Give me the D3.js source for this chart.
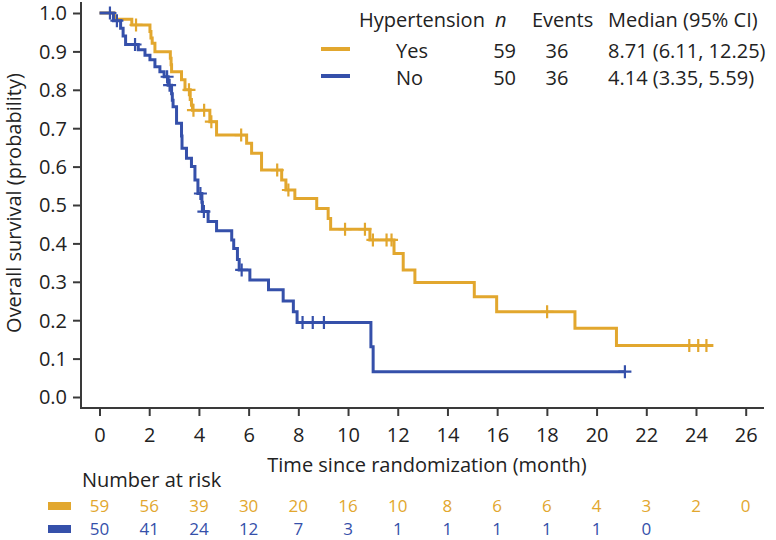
<!DOCTYPE html>
<html><head><meta charset="utf-8">
<script src="https://cdn.jsdelivr.net/npm/d3@7"></script>
<style>
body{margin:0;background:#fff}
svg text{font-family:"Open Sans",sans-serif;fill:#222}
</style>
</head><body>
<svg id="chart" width="776" height="540"></svg>
<script>
// ---------- data ----------
const groups = ["Yes", "No"];
const groupColors = ["#E2A72E", "#3550AA"];
const legendN = [59, 50];
const legendEvents = [36, 36];
const legendMedian = ["8.71 (6.11, 12.25)", "4.14 (3.35, 5.59)"];

const yesTimes = [0, 0.6, 1.3, 2.03, 2.07, 2.12, 2.23, 2.85, 2.88, 2.9, 3.3, 3.44, 3.65, 3.7, 3.74, 4.44, 4.71,
  5.92, 6.12, 6.52, 7.33, 7.5, 7.86, 8.74, 9.2, 9.3, 10.88, 11.85, 12.22, 12.69, 15.08, 15.98, 19.13, 20.8];
const yesSurv = [1.0, 0.984, 0.969, 0.952, 0.935, 0.921, 0.899, 0.882, 0.865, 0.847, 0.826, 0.800, 0.775, 0.760, 0.747, 0.717, 0.682,
  0.661, 0.635, 0.591, 0.565, 0.539, 0.517, 0.491, 0.465, 0.437, 0.409, 0.374, 0.331, 0.298, 0.261, 0.222, 0.179, 0.134];
const yesEnd = 24.7;
const yesCensor = [1.47, 3.6, 3.78, 4.21, 4.5, 5.7, 7.15, 7.6, 9.88, 10.68, 11.0, 11.55, 11.75, 18.01, 23.73, 24.09, 24.42];

const noTimes = [0, 0.56, 0.85, 0.95, 1.05, 1.56, 1.83, 2.03, 2.23, 2.43, 2.6, 2.76, 2.9, 2.93, 2.96, 3.1, 3.3, 3.32, 3.5, 3.7,
  3.84, 3.96, 4.12, 4.14, 4.37, 4.71, 5.32, 5.4, 5.55, 5.62, 6.05, 6.8, 7.39, 7.8, 7.95, 10.92, 11.01];
const noSurv = [1.0, 0.98, 0.96, 0.94, 0.918, 0.904, 0.89, 0.878, 0.86, 0.847, 0.834, 0.812, 0.79, 0.773, 0.756, 0.713, 0.68, 0.648, 0.622, 0.6,
  0.565, 0.53, 0.507, 0.483, 0.457, 0.433, 0.409, 0.387, 0.358, 0.331, 0.305, 0.279, 0.25, 0.222, 0.194, 0.131, 0.066];
const noEnd = 21.14;
const noCensor = [0.42, 0.7, 1.43, 2.72, 2.82, 4.06, 4.2, 5.72, 8.17, 8.58, 9.03, 21.14];

const xTickValues = [0, 2, 4, 6, 8, 10, 12, 14, 16, 18, 20, 22, 24, 26];
const yTickValues = [0, 0.1, 0.2, 0.3, 0.4, 0.5, 0.6, 0.7, 0.8, 0.9, 1.0];
const riskYes = [59, 56, 39, 30, 20, 16, 10, 8, 6, 6, 4, 3, 2, 0];
const riskNo = [50, 41, 24, 12, 7, 3, 1, 1, 1, 1, 1, 0];

// ---------- layout ----------
const svg = d3.select("#chart");
const x = d3.scaleLinear().domain([0, 26]).range([99.5, 745.7]);
const y = d3.scaleLinear().domain([0, 1]).range([397, 13]);
const axisColor = "#3a3a3a";
const fs = 20;
const riskFs = 17;

// axes
const yAxisX = 81, xAxisY = 408;
svg.append("line").attr("x1", yAxisX).attr("x2", yAxisX).attr("y1", 2).attr("y2", xAxisY + 1)
  .attr("stroke", axisColor).attr("stroke-width", 2);
svg.append("line").attr("x1", yAxisX - 1).attr("x2", 764).attr("y1", xAxisY).attr("y2", xAxisY)
  .attr("stroke", axisColor).attr("stroke-width", 2);

const gy = svg.append("g").attr("transform", `translate(${yAxisX},0)`)
  .call(d3.axisLeft(y).tickValues(yTickValues).tickFormat(d3.format(".1f")).tickSize(8).tickPadding(6));
const gx = svg.append("g").attr("transform", `translate(0,${xAxisY})`)
  .call(d3.axisBottom(x).tickValues(xTickValues).tickFormat(d3.format("d")).tickSize(8).tickPadding(12));
[gy, gx].forEach(g => {
  g.select(".domain").remove();
  g.selectAll(".tick line").attr("stroke", axisColor).attr("stroke-width", 2);
  g.selectAll(".tick text").attr("font-size", fs).attr("font-family", "Open Sans").attr("fill", "#222");
});
gy.selectAll(".tick text").attr("dy", "0.34em");

// axis titles
svg.append("text").attr("x", 427).attr("y", 472).attr("text-anchor", "middle").attr("font-size", fs)
  .text("Time since randomization (month)");
svg.append("text").attr("transform", "translate(21,203) rotate(-90)").attr("text-anchor", "middle").attr("font-size", fs)
  .text("Overall survival (probability)");

// ---------- curves ----------
function stepVal(times, surv, t) {
  let v = surv[0];
  for (let i = 0; i < times.length; i++) if (times[i] <= t) v = surv[i];
  return v;
}
const series = [
  {times: yesTimes, surv: yesSurv, end: yesEnd, censor: yesCensor, color: groupColors[0]},
  {times: noTimes, surv: noSurv, end: noEnd, censor: noCensor, color: groupColors[1]}
];
const line = d3.line().x(d => x(d[0])).y(d => y(d[1])).curve(d3.curveStepAfter);
series.forEach(s => {
  const pts = s.times.map((t, i) => [t, s.surv[i]]);
  pts.push([s.end, s.surv[s.surv.length - 1]]);
  svg.append("path").attr("d", line(pts)).attr("fill", "none")
    .attr("stroke", s.color).attr("stroke-width", 3).attr("stroke-linejoin", "miter");
  const h = 6.5;
  svg.append("g").selectAll("path").data(s.censor).join("path")
    .attr("d", t => {
      const cx = x(t), cy = y(stepVal(s.times, s.surv, t));
      return `M${cx - h},${cy}H${cx + h}M${cx},${cy - h}V${cy + h}`;
    })
    .attr("stroke", s.color).attr("stroke-width", 2.2).attr("fill", "none");
});

// ---------- legend table ----------
const lg = svg.append("g");
const rowY = [58, 85];
lg.append("text").attr("x", 359).attr("y", 27).attr("font-size", fs).text("Hypertension");
lg.append("text").attr("x", 495).attr("y", 27).attr("font-size", fs).attr("font-style", "italic").text("n");
lg.append("text").attr("x", 532).attr("y", 27).attr("font-size", fs).text("Events");
lg.append("text").attr("x", 608).attr("y", 27).attr("font-size", fs).text("Median (95% CI)");
groups.forEach((g, i) => {
  lg.append("line").attr("x1", 321).attr("x2", 350).attr("y1", rowY[i] - 9).attr("y2", rowY[i] - 9)
    .attr("stroke", groupColors[i]).attr("stroke-width", 4);
  lg.append("text").attr("x", 396).attr("y", rowY[i]).attr("font-size", fs).text(g);
  lg.append("text").attr("x", 516).attr("y", rowY[i]).attr("font-size", fs).attr("text-anchor", "end").text(legendN[i]);
  lg.append("text").attr("x", 557).attr("y", rowY[i]).attr("font-size", fs).attr("text-anchor", "middle").text(legendEvents[i]);
  lg.append("text").attr("x", 608).attr("y", rowY[i]).attr("font-size", fs).text(legendMedian[i]);
});

// ---------- number at risk ----------
svg.append("text").attr("x", 82).attr("y", 487).attr("font-size", fs).text("Number at risk");
const riskRows = [riskYes, riskNo];
const riskY = [512, 535];
riskRows.forEach((row, i) => {
  svg.append("rect").attr("x", 48).attr("y", riskY[i] - 10).attr("width", 23).attr("height", 8)
    .attr("fill", groupColors[i]);
  svg.append("g").selectAll("text").data(row).join("text")
    .attr("x", (d, j) => x(xTickValues[j])).attr("y", riskY[i])
    .attr("text-anchor", "middle").attr("font-size", riskFs)
    .style("fill", groupColors[i]).text(d => d);
});
</script>
</body></html>
